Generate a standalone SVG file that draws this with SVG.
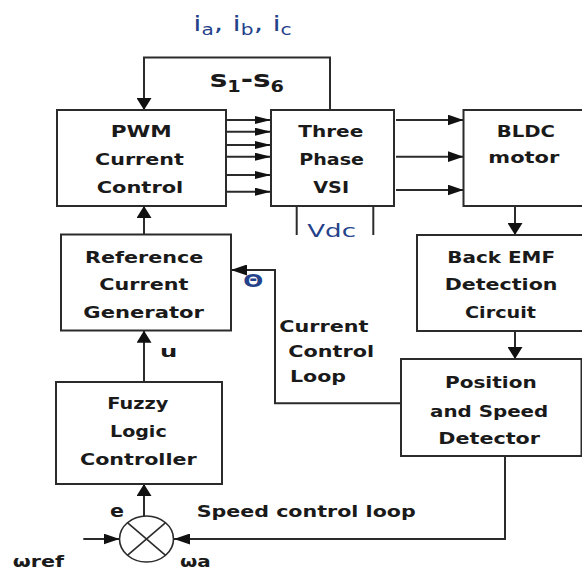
<svg xmlns="http://www.w3.org/2000/svg" width="582" height="570" viewBox="0 0 582 570">
<style>
.box{fill:#fff;stroke:#2b2b2b;stroke-width:2}
.ln{fill:none;stroke:#2b2b2b;stroke-width:2}
.t{font-family:"DejaVu Sans","Verdana",sans-serif;font-weight:bold;font-size:16px;fill:#1a1a1a}
.b{font-family:"DejaVu Sans","Verdana",sans-serif;font-weight:normal;fill:#24428a}
</style>
<defs>
<marker id="ah" markerUnits="userSpaceOnUse" viewBox="0 0 16 11" refX="16" refY="5.5" markerWidth="16" markerHeight="11" orient="auto"><path d="M0,0 L16,5.5 L0,11 z" fill="#111"/></marker>
<marker id="av" markerUnits="userSpaceOnUse" viewBox="0 0 12 15" refX="12" refY="7.5" markerWidth="12" markerHeight="15" orient="auto"><path d="M0,0 L12,7.5 L0,15 z" fill="#111"/></marker>
<marker id="as" markerUnits="userSpaceOnUse" viewBox="0 0 16 8" refX="16" refY="4" markerWidth="16" markerHeight="8" orient="auto"><path d="M0,0 L16,4 L0,8 z" fill="#111"/></marker>
</defs>
<rect width="582" height="570" fill="#fff"/>

<g id="connectors">
<polyline class="ln" points="330,110 330,57.5 144,57.5 144,110" marker-end="url(#av)"/>
<line class="ln" x1="226" y1="120" x2="271" y2="120" marker-end="url(#as)"/>
<line class="ln" x1="226" y1="131.7" x2="271" y2="131.7" marker-end="url(#as)"/>
<line class="ln" x1="226" y1="145" x2="271" y2="145" marker-end="url(#as)"/>
<line class="ln" x1="226" y1="156.7" x2="271" y2="156.7" marker-end="url(#as)"/>
<line class="ln" x1="226" y1="175" x2="271" y2="175" marker-end="url(#as)"/>
<line class="ln" x1="226" y1="191.7" x2="271" y2="191.7" marker-end="url(#as)"/>
<line class="ln" x1="396" y1="120" x2="463.5" y2="120" marker-end="url(#ah)"/>
<line class="ln" x1="396" y1="156.7" x2="463.5" y2="156.7" marker-end="url(#ah)"/>
<line class="ln" x1="396" y1="190" x2="463.5" y2="190" marker-end="url(#ah)"/>
<line class="ln" x1="296.7" y1="206" x2="296.7" y2="235"/>
<line class="ln" x1="373.3" y1="206" x2="373.3" y2="235"/>
<line class="ln" x1="515" y1="206" x2="515" y2="235" marker-end="url(#av)"/>
<line class="ln" x1="515" y1="331" x2="515" y2="359" marker-end="url(#av)"/>
<line class="ln" x1="144" y1="234.5" x2="144" y2="206" marker-end="url(#av)"/>
<line class="ln" x1="144" y1="382" x2="144" y2="330.7" marker-end="url(#av)"/>
<line class="ln" x1="144" y1="516" x2="144" y2="484" marker-end="url(#av)"/>
<polyline class="ln" points="505,456 505,539 174,539" marker-end="url(#ah)"/>
<line class="ln" x1="83.3" y1="539" x2="119.5" y2="539" marker-end="url(#ah)"/>
<polyline class="ln" points="401,403.3 275,403.3 275,270 231,270" marker-end="url(#ah)"/>
</g>

<g id="pwm">
<rect class="box" x="57" y="110" width="169" height="96"/>
<text class="t" x="110.7" y="137.3" textLength="61" lengthAdjust="spacingAndGlyphs">PWM</text>
<text class="t" x="95" y="165" textLength="89" lengthAdjust="spacingAndGlyphs">Current</text>
<text class="t" x="96.7" y="193.3" textLength="86.6" lengthAdjust="spacingAndGlyphs">Control</text>
</g>

<g id="vsi">
<rect class="box" x="271" y="110" width="123" height="96"/>
<text class="t" x="298.3" y="136.7" textLength="65" lengthAdjust="spacingAndGlyphs">Three</text>
<text class="t" x="299.3" y="165" textLength="64.7" lengthAdjust="spacingAndGlyphs">Phase</text>
<text class="t" x="313.3" y="193.3" textLength="35.7" lengthAdjust="spacingAndGlyphs">VSI</text>
</g>

<g id="bldc">
<rect class="box" x="463.5" y="110" width="125" height="96"/>
<text class="t" x="496.7" y="136.7" textLength="58.3" lengthAdjust="spacingAndGlyphs">BLDC</text>
<text class="t" x="488.3" y="163" textLength="71" lengthAdjust="spacingAndGlyphs">motor</text>
</g>

<g id="backemf">
<rect class="box" x="417" y="235" width="170" height="96"/>
<text class="t" x="447.3" y="263.3" textLength="107.7" lengthAdjust="spacingAndGlyphs">Back EMF</text>
<text class="t" x="444.7" y="290" textLength="112.8" lengthAdjust="spacingAndGlyphs">Detection</text>
<text class="t" x="465" y="318.3" textLength="71" lengthAdjust="spacingAndGlyphs">Circuit</text>
</g>

<g id="refgen">
<rect class="box" x="61" y="234.5" width="170" height="96"/>
<text class="t" x="85" y="263.3" textLength="118.3" lengthAdjust="spacingAndGlyphs">Reference</text>
<text class="t" x="99.3" y="290" textLength="89" lengthAdjust="spacingAndGlyphs">Current</text>
<text class="t" x="83.3" y="318.3" textLength="120.7" lengthAdjust="spacingAndGlyphs">Generator</text>
</g>

<g id="position">
<rect class="box" x="401" y="359" width="180.5" height="97"/>
<text class="t" x="445" y="388.3" textLength="91.7" lengthAdjust="spacingAndGlyphs">Position</text>
<text class="t" x="430" y="416.7" textLength="118.3" lengthAdjust="spacingAndGlyphs">and Speed</text>
<text class="t" x="438.3" y="444.3" textLength="101.7" lengthAdjust="spacingAndGlyphs">Detector</text>
</g>

<g id="fuzzy">
<rect class="box" x="56" y="382" width="166" height="102"/>
<text class="t" x="107.3" y="409.3" textLength="61" lengthAdjust="spacingAndGlyphs">Fuzzy</text>
<text class="t" x="110" y="436.7" textLength="56.7" lengthAdjust="spacingAndGlyphs">Logic</text>
<text class="t" x="80" y="465" textLength="116.7" lengthAdjust="spacingAndGlyphs">Controller</text>
</g>

<g id="sum">
<ellipse cx="146.5" cy="539" rx="27" ry="23" fill="#fff" stroke="#2b2b2b" stroke-width="1.6"/>
<line x1="127.4" y1="522.7" x2="165.6" y2="555.3" stroke="#2b2b2b" stroke-width="1.6"/>
<line x1="165.6" y1="522.7" x2="127.4" y2="555.3" stroke="#2b2b2b" stroke-width="1.6"/>
</g>

<g id="labels">
<text class="b" x="193.3" y="30.7" style="font-size:22px" textLength="98.4" lengthAdjust="spacingAndGlyphs">i<tspan style="font-size:15px" dy="4">a</tspan><tspan dy="-4">, i</tspan><tspan style="font-size:15px" dy="4">b</tspan><tspan dy="-4">, i</tspan><tspan style="font-size:15px" dy="4">c</tspan></text>
<text class="t" x="209.7" y="86.7" style="font-size:23px" textLength="74.3" lengthAdjust="spacingAndGlyphs">s<tspan style="font-size:15px" dy="5">1</tspan><tspan dy="-5">-s</tspan><tspan style="font-size:15px" dy="5">6</tspan></text>
<text class="b" x="307.3" y="237.3" style="font-size:17px" textLength="48.7" lengthAdjust="spacingAndGlyphs">Vdc</text>
<text class="b" x="243.3" y="287" style="font-size:18px;font-weight:bold" textLength="20" lengthAdjust="spacingAndGlyphs">Θ</text>
<text class="t" x="160" y="357.3" textLength="17.3" lengthAdjust="spacingAndGlyphs">u</text>
<text class="t" x="279.3" y="331.7" textLength="89" lengthAdjust="spacingAndGlyphs">Current</text>
<text class="t" x="288.3" y="356.7" textLength="85.7" lengthAdjust="spacingAndGlyphs">Control</text>
<text class="t" x="290" y="381.7" textLength="56" lengthAdjust="spacingAndGlyphs">Loop</text>
<text class="t" x="196.7" y="516.7" textLength="219" lengthAdjust="spacingAndGlyphs">Speed control loop</text>
<text class="t" x="110" y="516.7" style="font-size:18px" textLength="14" lengthAdjust="spacingAndGlyphs">e</text>
<text class="t" x="12.7" y="566.7" textLength="51.3" lengthAdjust="spacingAndGlyphs">ωref</text>
<text class="t" x="180" y="566.7" textLength="30.7" lengthAdjust="spacingAndGlyphs">ωa</text>
</g>
</svg>
